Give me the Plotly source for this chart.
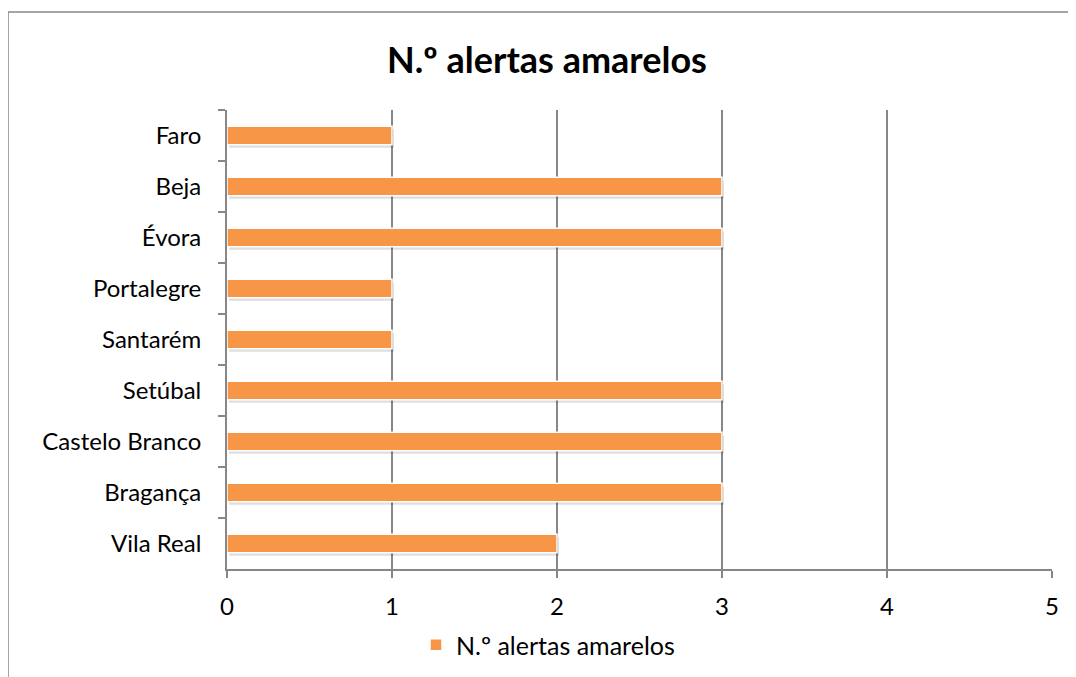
import plotly.graph_objects as go

categories = ["Faro", "Beja", "Évora", "Portalegre", "Santarém", "Setúbal",
              "Castelo Branco", "Bragança", "Vila Real"]
values = [1, 3, 3, 1, 1, 3, 3, 3, 2]
series_name = "N.º alertas amarelos"
title_text = "N.º alertas amarelos"
x_ticks = [0, 1, 2, 3, 4, 5]

# page body has an 8px margin, so figure coords = screen coords - 8
OFF = 8
W, H = 1076, 677
L, R, T, B = 227 - OFF, 1052 - OFF, 110 - OFF, 569 - OFF
pw, ph = R - L, B - T

BW = 0.36
fig = go.Figure()
# soft shadow
fig.add_trace(go.Bar(
    y=categories, x=values, orientation="h", name="shadow",
    marker=dict(color="rgba(0,0,0,0.13)", line=dict(width=0)),
    width=BW, offset=-BW / 2 + 0.06, base=0.012, showlegend=False, hoverinfo="skip",
))
fig.add_trace(go.Bar(
    y=categories, x=values, orientation="h", name=series_name,
    marker=dict(color="#F79646", line=dict(color="white", width=1.5)),
    width=BW, offset=-BW / 2, showlegend=True,
))

gray = "#878787"
fig.update_layout(
    width=W, height=H,
    margin=dict(l=L, r=W - R, t=T, b=H - B, pad=0),
    paper_bgcolor="white", plot_bgcolor="white",
    barmode="overlay",
    font=dict(family="Lato, 'Open Sans', sans-serif", size=24, color="black"),
    title=dict(text="<b>" + title_text + "</b>", x=(547 - OFF) / W, xref="container", xanchor="center",
               y=1 - (60 - OFF) / H, yref="container", yanchor="middle",
               font=dict(size=36, color="black")),
    xaxis=dict(range=[0, 5], tickvals=x_ticks, showgrid=True, gridcolor=gray, gridwidth=1.8,
               zeroline=False, showline=True, linecolor=gray, linewidth=1.8,
               ticks="outside", ticklen=7, tickcolor=gray, tickwidth=1.8,
               ticklabelstandoff=8, fixedrange=True),
    yaxis=dict(type="category", autorange="reversed", tickson="boundaries",
               showgrid=False, showline=True, linecolor=gray, linewidth=1.8,
               ticks="outside", ticklen=7, tickcolor=gray, tickwidth=1.8,
               ticklabelstandoff=19),
    legend=dict(orientation="h", x=(548 - OFF - L) / pw, xanchor="center",
                y=(B - (645 - OFF)) / ph, yanchor="middle", font=dict(size=25),
                itemwidth=30),
    shapes=[dict(type="rect", xref="paper", yref="paper",
                 x0=(0 - L) / pw, x1=(1090 - L) / pw,
                 y0=(B - 700) / ph, y1=(B - 4) / ph,
                 line=dict(color=gray, width=1.5), fillcolor="rgba(0,0,0,0)", layer="below")],
)

fig.write_html("out.html")
